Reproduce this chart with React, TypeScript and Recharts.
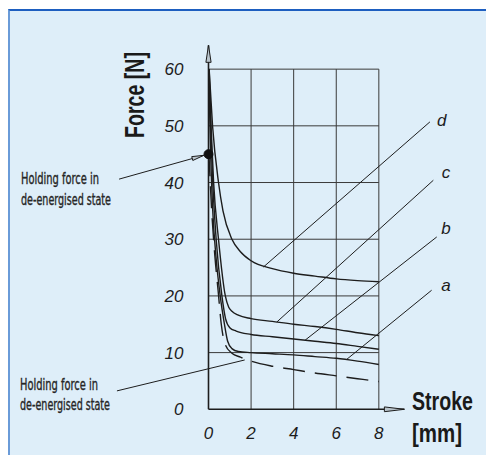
import React from 'react';
import { ComposedChart, Line, XAxis, YAxis, ReferenceLine, ReferenceDot } from 'recharts';

// Axis ticks
const xTicks = [0, 2, 4, 6, 8];
const yTicks = [0, 10, 20, 30, 40, 50, 60];
const gridStrokes = [2, 4, 6, 8];
const gridForces = [10, 20, 30, 40, 50, 60];

// Curve d
const strokeD = [0.03, 0.19, 0.47, 0.68, 1.1, 1.5, 2, 3, 4, 5, 6, 7, 8];
const forceD = [60, 50, 40, 35, 30, 27.8, 26.2, 24.8, 24.0, 23.5, 23.0, 22.7, 22.5];
// Curve c
const strokeC = [0.03, 0.12, 0.24, 0.47, 0.79, 0.95, 1.1, 1.4, 2, 3, 4, 5, 6, 7, 8];
const forceC = [60, 50, 40, 30, 20, 18, 17.3, 16.6, 16.0, 15.5, 15.0, 14.6, 14.1, 13.5, 13.0];
// Curve b
const strokeB = [0.02, 0.1, 0.2, 0.36, 0.63, 0.8, 1.0, 1.3, 2, 3, 4, 5, 6, 7, 8];
const forceB = [60, 50, 40, 30, 20, 16, 14.4, 13.8, 13.2, 12.8, 12.4, 12.0, 11.6, 11.1, 10.6];
// Curve a
const strokeA = [0.02, 0.1, 0.2, 0.35, 0.55, 0.75, 0.9, 1.1, 1.4, 2, 3, 4, 5, 6, 7, 8];
const forceA = [58, 45, 35, 27, 20, 15, 12, 10.7, 10.2, 10.0, 9.8, 9.6, 9.3, 9.0, 8.5, 7.9];
// De-energised (dashed)
const strokeDash = [0.02, 0.15, 0.3, 0.45, 0.6, 0.8, 1.1, 1.5, 2, 3, 4, 5, 6, 7, 8];
const forceDash = [45, 35, 27, 21, 15, 11.3, 9.9, 9.2, 8.5, 7.6, 7.0, 6.4, 5.9, 5.4, 4.9];

// Curve labels and their leader lines
const curveLabels = ['a', 'b', 'c', 'd'];
const labelStroke = [11.15, 11.15, 11.15, 10.95];
const labelForce = [21.9, 31.9, 41.9, 51.0];
const leaderFromStroke = [6.49, 4.54, 3.21, 2.58];
const leaderFromForce = [8.8, 12.2, 15.4, 25.1];
const leaderToStroke = [10.48, 10.72, 10.56, 10.4];
const leaderToForce = [21.0, 30.4, 40.4, 50.7];

// Holding force point and annotation leaders
const holdStroke = 0;
const holdForce = 45;
const holdLeaderStroke = [-4.2, -0.22];
const holdLeaderForce = [40.6, 44.8];
const holdLeader2Stroke = [-4.3, 1.7];
const holdLeader2Force = [3.25, 8.7];

const toPoints = (xs: number[], ys: number[]) => xs.map((x, i) => ({ x, y: ys[i] }));

const INK = '#1d1d1d';

const ArrowShape = (p: any) => {
  const { x1, y1, x2, y2, len, half } = p;
  const dx = x2 - x1;
  const dy = y2 - y1;
  const L = Math.sqrt(dx * dx + dy * dy) || 1;
  const ux = dx / L;
  const uy = dy / L;
  const bx = x2 - ux * len;
  const by = y2 - uy * len;
  const nx = -uy * half;
  const ny = ux * half;
  return (
    <g>
      <line x1={x1} y1={y1} x2={x2} y2={y2} stroke={p.lineColor || INK} strokeWidth={p.sw || 1.5} />
      <polygon
        points={`${x2},${y2} ${bx + nx},${by + ny} ${bx - nx},${by - ny}`}
        fill="#b9c4cc"
        stroke={INK}
        strokeWidth={1}
      />
    </g>
  );
};

const curves = [
  { key: 'd', data: toPoints(strokeD, forceD) },
  { key: 'c', data: toPoints(strokeC, forceC) },
  { key: 'b', data: toPoints(strokeB, forceB) },
  { key: 'a', data: toPoints(strokeA, forceA) },
];

const labelFont = "'Liberation Sans Narrow', 'DejaVu Sans Condensed', 'Liberation Sans', sans-serif";
const boldFont = "'Liberation Sans', sans-serif";

const noteStyle = {
  fontFamily: labelFont,
  fontSize: 15.5,
  fill: '#262626',
  stroke: '#262626',
  strokeWidth: 0.35,
} as const;

export default function App() {
  return (
    <div style={{ position: 'fixed', left: 0, top: 0, width: 486, height: 455, background: '#ffffff', overflow: 'hidden' }}>
      <div
        style={{
          position: 'absolute',
          left: 8,
          top: 9,
          width: 478,
          height: 446,
          boxSizing: 'border-box',
          background: '#deeef9',
          borderTop: '2px solid #1d5ec0',
          borderLeft: '2px solid #6a9bd8',
        }}
      />
      <div style={{ position: 'absolute', left: 0, top: 0 }}>
        <ComposedChart width={486} height={455} margin={{ top: 40.8, right: 22, bottom: 15.7, left: 0 }}>
          <XAxis
            type="number"
            dataKey="x"
            domain={[0, 12]}
            ticks={xTicks}
            axisLine={false}
            tickLine={false}
            tickSize={0}
            tickMargin={18}
            height={30}
            tick={{ fill: INK, fontSize: 17, fontStyle: 'italic', fontFamily: 'Liberation Sans' }}
          />
          <YAxis
            type="number"
            dataKey="y"
            domain={[0, 65]}
            ticks={yTicks}
            axisLine={false}
            tickLine={false}
            tickSize={0}
            tickMargin={25}
            width={208.5}
            tick={{ fill: INK, fontSize: 17, fontStyle: 'italic', fontFamily: 'Liberation Sans' }}
          />
          {gridForces.map((f) => (
            <ReferenceLine
              key={'h' + f}
              segment={[{ x: 0, y: f }, { x: 8, y: f }]}
              stroke="#3a3a3a"
              strokeWidth={1}
            />
          ))}
          {gridStrokes.map((s) => (
            <ReferenceLine
              key={'v' + s}
              segment={[{ x: s, y: 0 }, { x: s, y: 60 }]}
              stroke="#3a3a3a"
              strokeWidth={1}
            />
          ))}
          <ReferenceLine
            segment={[{ x: 0, y: 0 }, { x: 9.2, y: 0 }]}
            ifOverflow="visible"
            shape={(p: any) => <ArrowShape {...p} len={20} half={2.4} sw={1.6} />}
          />
          <ReferenceLine
            segment={[{ x: 0, y: 0 }, { x: 0, y: 64.2 }]}
            ifOverflow="visible"
            shape={(p: any) => <ArrowShape {...p} len={17} half={2.6} sw={1.6} />}
          />
          {curves.map((c) => (
            <Line
              key={c.key}
              data={c.data}
              dataKey="y"
              type="monotone"
              stroke={INK}
              strokeWidth={1.4}
              dot={false}
              activeDot={false}
              isAnimationActive={false}
            />
          ))}
          <Line
            data={toPoints(strokeDash, forceDash)}
            dataKey="y"
            type="monotone"
            stroke={INK}
            strokeWidth={1.4}
            strokeDasharray="22 10"
            dot={false}
            activeDot={false}
            isAnimationActive={false}
          />
          {curveLabels.map((l, i) => (
            <ReferenceLine
              key={'ld' + l}
              segment={[
                { x: leaderFromStroke[i], y: leaderFromForce[i] },
                { x: leaderToStroke[i], y: leaderToForce[i] },
              ]}
              stroke={INK}
              strokeWidth={1}
            />
          ))}
          {curveLabels.map((l, i) => (
            <ReferenceDot
              key={'lb' + l}
              x={labelStroke[i]}
              y={labelForce[i]}
              r={0}
              shape={(p: any) => (
                <text
                  x={p.cx}
                  y={p.cy}
                  dy="0.35em"
                  textAnchor="middle"
                  fontSize={17}
                  fontStyle="italic"
                  fontFamily="Liberation Sans"
                  fill={INK}
                >
                  {l}
                </text>
              )}
            />
          ))}
          <ReferenceLine
            segment={[
              { x: holdLeaderStroke[0], y: holdLeaderForce[0] },
              { x: holdLeaderStroke[1], y: holdLeaderForce[1] },
            ]}
            ifOverflow="visible"
            shape={(p: any) => <ArrowShape {...p} len={12} half={2} sw={1} />}
          />
          <ReferenceLine
            segment={[
              { x: holdLeader2Stroke[0], y: holdLeader2Force[0] },
              { x: holdLeader2Stroke[1], y: holdLeader2Force[1] },
            ]}
            ifOverflow="visible"
            stroke={INK}
            strokeWidth={1}
          />
          <ReferenceDot x={holdStroke} y={holdForce} r={4.5} fill="#111" stroke="#111" ifOverflow="visible" />
        </ComposedChart>
      </div>
      <svg width={486} height={455} style={{ position: 'absolute', left: 0, top: 0, pointerEvents: 'none' }}>
        <text
          transform="translate(143.5 95) rotate(-90) scale(0.726 1)"
          x={0}
          y={0}
          textAnchor="middle"
          fontFamily={boldFont}
          fontWeight="bold"
          fontSize={27}
          fill="#1a1a1a"
        >
          Force [N]
        </text>
        <text transform="translate(412 410) scale(0.784 1)" x={0} y={0} fontFamily={boldFont} fontWeight="bold" fontSize={25} fill="#1a1a1a">
          Stroke
        </text>
        <text transform="translate(412 442) scale(0.82 1)" x={0} y={0} fontFamily={boldFont} fontWeight="bold" fontSize={25} fill="#1a1a1a">
          [mm]
        </text>
        <text x={21} y={183.5} {...noteStyle} textLength={78} lengthAdjust="spacingAndGlyphs">
          Holding force in
        </text>
        <text x={21} y={204.5} {...noteStyle} textLength={90} lengthAdjust="spacingAndGlyphs">
          de-energised state
        </text>
        <text x={20} y={389.5} {...noteStyle} textLength={78} lengthAdjust="spacingAndGlyphs">
          Holding force in
        </text>
        <text x={20} y={410} {...noteStyle} textLength={90} lengthAdjust="spacingAndGlyphs">
          de-energised state
        </text>
      </svg>
    </div>
  );
}
